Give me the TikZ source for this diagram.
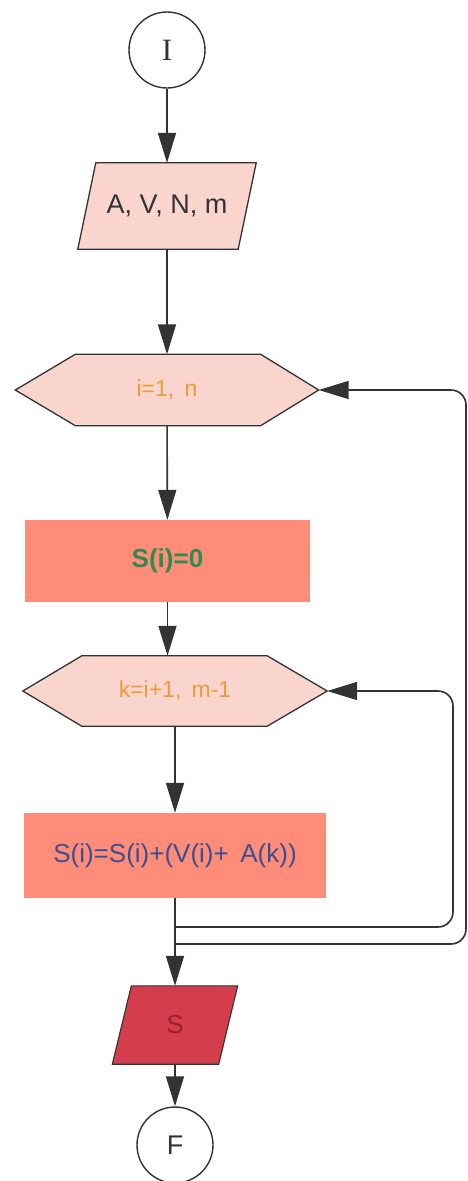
\documentclass[tikz,border=0pt]{standalone}
\usepackage{fontspec}
\setmainfont{Liberation Sans}
\newfontfamily\serifI{Liberation Serif}
\usetikzlibrary{arrows.meta,backgrounds,calc}

\definecolor{lineclr}{HTML}{333333}
\definecolor{paleclr}{HTML}{F9D5CE}
\definecolor{salmonclr}{HTML}{FF8B79}
\definecolor{crimsonclr}{HTML}{D43D4C}
\definecolor{orangetxt}{HTML}{EE9A3A}
\definecolor{greentxt}{HTML}{2E8B50}
\definecolor{bluetxt}{HTML}{3D4F8F}
\definecolor{redtxt}{HTML}{9A1F2A}

\tikzset{
  conn/.style={draw=lineclr, line width=1.6pt},
  flow/.style={conn, -{Triangle[length=30pt,width=18pt]}},
  terminal/.style={circle, draw=lineclr, line width=1.4pt, fill=white,
    minimum size=76pt, inner sep=0pt, font=\fontsize{27}{29}\selectfont, text=lineclr},
  frame/.style={inner sep=0pt},
  outline/.style={draw=lineclr, line width=1.3pt, line join=miter},
}

\begin{document}
\begin{tikzpicture}[x=1pt, y=-1pt]
\useasboundingbox (0,0) rectangle (468,1181);

% start / end terminals
\node[terminal] (start) at (167,50) {\serifI\fontsize{31}{33}\selectfont I};
\node[terminal] (stop) at (175,1145) {F};

% input block
\node[frame, minimum width=160pt, minimum height=86pt,
  font=\fontsize{27}{29}\selectfont, text=lineclr] (input) at (167,206) {A, V, N, m};

% outer loop header
\node[frame, minimum width=303pt, minimum height=71pt,
  font=\fontsize{23}{25}\selectfont, text=orangetxt] (loopi) at (167,390) {i=1,\, n};

% initialisation
\node[frame, minimum width=285pt, minimum height=82pt, fill=salmonclr,
  font=\bfseries\fontsize{26}{28}\selectfont, text=greentxt] (init) at (167.5,561) {S(i)=0};

% inner loop header
\node[frame, minimum width=304pt, minimum height=70pt,
  font=\fontsize{23}{25}\selectfont, text=orangetxt] (loopk) at (175,691) {k=i+1,\, m-1};

% accumulation
\node[frame, minimum width=302pt, minimum height=85pt, fill=salmonclr,
  font=\fontsize{26}{28}\selectfont, text=bluetxt] (accum) at (175,855.5) {S(i)=S(i)+(V(i)+\, A(k))};

% output block
\node[frame, minimum width=106pt, minimum height=78pt,
  font=\fontsize{26}{28}\selectfont, text=redtxt] (output) at (175,1025) {S};

% shapes behind the texts
\begin{scope}[on background layer]
  \path[outline, fill=paleclr]
    ($(input.north west)+(9,0)$) -- ($(input.north east)+(9,0)$)
    -- ($(input.south east)+(-9,0)$) -- ($(input.south west)+(-9,0)$) -- cycle;
  \path[outline, fill=paleclr]
    (loopi.west) -- ($(loopi.north west)+(60,0)$) -- ($(loopi.north east)+(-58,0)$)
    -- (loopi.east) -- ($(loopi.south east)+(-58,0)$) -- ($(loopi.south west)+(60,0)$) -- cycle;
  \path[outline, fill=paleclr]
    (loopk.west) -- ($(loopk.north west)+(59,0)$) -- ($(loopk.north east)+(-60,0)$)
    -- (loopk.east) -- ($(loopk.south east)+(-60,0)$) -- ($(loopk.south west)+(59,0)$) -- cycle;
  \path[outline, line width=1.1pt, fill=crimsonclr]
    ($(output.north west)+(9.5,0)$) -- ($(output.north east)+(9.5,0)$)
    -- ($(output.south east)+(-9.5,0)$) -- ($(output.south west)+(-9.5,0)$) -- cycle;
\end{scope}

% junctions where the loops return
\coordinate (retk) at (175,927);
\coordinate (reti) at (175,944);

% main flow
\draw[flow] (start) -- (input);
\draw[flow] (input) -- (loopi);
\draw[flow] (loopi) -- (init);
\draw[flow] (init.south) -- (init.south |- loopk.north);
\draw[flow] (loopk) -- (accum);
\draw[flow] (accum.south) -- (output.north);
\draw[flow] (output.south) -- (stop.north);

% loop returns
\draw[flow, rounded corners=15pt] (retk) -- (453,927) -- (453,691) -- (loopk.east);
\draw[flow, rounded corners=15pt] (reti) -- (466,944) -- (466,390) -- (loopi.east);
\end{tikzpicture}
\end{document}
